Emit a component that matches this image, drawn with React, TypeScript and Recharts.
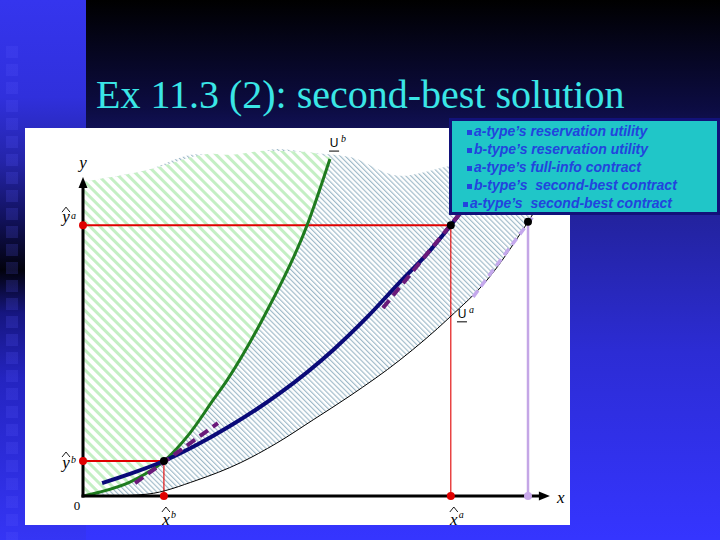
import React from 'react'
import { ComposedChart, Line, Area, XAxis, YAxis, ReferenceLine, ReferenceDot, Legend } from 'recharts'

const serif = '"Liberation Serif", "Times New Roman", serif'
const sans = '"Liberation Sans", Arial, sans-serif'

// plot units: x 0..10, y 0..10
const xHatB = 1.74
const xHatA = 7.91
const yHatB = 0.95
const yHatA = 7.36
const xSecondA = 9.57
const ySecondA = 7.45
const yAxisTop = 8.67
const xAxisEnd = 10.04

// b-type reservation utility (green)
const ubCurve = [
  { x: 0, y: 0 }, { x: 0.37, y: 0.11 }, { x: 1.01, y: 0.38 }, { x: 1.38, y: 0.63 },
  { x: 1.74, y: 0.95 }, { x: 2.3, y: 1.71 }, { x: 2.8, y: 2.61 }, { x: 3.1, y: 3.15 },
  { x: 3.91, y: 4.92 }, { x: 4.82, y: 7.36 }, { x: 5.31, y: 9.16 },
]
// top edge of the green hatch, one per ubCurve point
const ubHatchTop = [8.53, 8.62, 8.76, 8.86, 8.98, 9.2, 9.3, 9.27, 9.38, 9.35, 9.2]

// a-type reservation utility (thin black)
const uaCurve = [
  { x: 0.62, y: 0 }, { x: 1.38, y: 0.05 }, { x: 2.45, y: 0.43 }, { x: 3.38, y: 0.9 },
  { x: 4.17, y: 1.44 }, { x: 4.95, y: 2.07 }, { x: 5.74, y: 2.72 }, { x: 6.82, y: 3.7 },
  { x: 7.89, y: 4.86 }, { x: 8.69, y: 5.87 }, { x: 9.57, y: 7.45 }, { x: 10, y: 8.32 },
]
const uaHatchTop = [8.67, 8.86, 9.29, 9.21, 9.43, 9.32, 9.21, 8.7, 8.97, 9.13, 9.13, 9.13]
const hatchTopAtOrigin = 8.53

// a-type full-info contract curve (navy)
const aFullInfo = [
  { x: 0.41, y: 0.35 }, { x: 1.01, y: 0.6 }, { x: 1.74, y: 0.95 }, { x: 2.45, y: 1.39 },
  { x: 3.16, y: 1.9 }, { x: 4.24, y: 2.8 }, { x: 5.38, y: 3.97 }, { x: 6.11, y: 4.86 },
  { x: 6.82, y: 5.82 }, { x: 7.4, y: 6.58 }, { x: 7.91, y: 7.36 }, { x: 8.32, y: 8.02 },
]

// b-type second-best (purple dashed, two pieces)
const bSecondBest = [
  { x: 1.12, y: 0.35 }, { x: 2.9, y: 1.98 }, { x: 4.6, y: null },
  { x: 6.45, y: 5.11 }, { x: 8.34, y: 8.04 },
]

// a-type second-best (lavender dashed)
const aSecondBest = [{ x: 8.39, y: 5.41 }, { x: 9.94, y: 8.04 }]

const legendItems = [
  'a-type’s reservation utility',
  'b-type’s reservation utility',
  'a-type’s full-info contract',
  'b-type’s  second-best contract',
  'a-type’s  second-best contract',
]

const greenArea = ubCurve.map((p, i) => ({ x: p.x, range: [p.y, ubHatchTop[i]] }))
const blueArea = [
  { x: 0, range: [0, hatchTopAtOrigin] },
  ...uaCurve.map((p, i) => ({ x: p.x, range: [p.y, uaHatchTop[i]] })),
]

function LegendBox() {
  return (
    <div
      style={{
        boxSizing: 'border-box', width: 271, height: 97, background: '#20c6c8',
        border: '3px solid #12127a', paddingTop: 1, fontFamily: sans, fontWeight: 'bold',
        fontStyle: 'italic', fontSize: 14, lineHeight: '18px', color: '#2244dd',
      }}
    >
      {legendItems.map((t, i) => (
        <div key={i} style={{ paddingLeft: i === 4 ? 11 : 15, whiteSpace: 'pre' }}>
          <span style={{ display: 'inline-block', width: 5, height: 5, background: '#2244dd', marginRight: 2, verticalAlign: 'middle' }} />
          {t}
        </div>
      ))}
    </div>
  )
}

function hatLabel(letter: string, sup: string, dx: number, dy: number, hatDy: number, supDy: number) {
  return (cx: number, cy: number) => {
    const lx = cx + dx
    return (
      <g>
        <polyline points={`${lx - 4},${cy + hatDy + 5} ${lx},${cy + hatDy} ${lx + 4},${cy + hatDy + 5}`} fill="none" stroke="#000" strokeWidth={0.9} />
        <text x={lx} y={cy + dy} textAnchor="middle" fontFamily={serif} fontStyle="italic" fontSize={17}>{letter}</text>
        <text x={lx + 5} y={cy + supDy} fontFamily={serif} fontStyle="italic" fontSize={10}>{sup}</text>
      </g>
    )
  }
}

function dotShape(fill: string, r: number, label?: (cx: number, cy: number) => React.ReactNode) {
  return (p: any) => (
    <g>
      <circle cx={p.cx} cy={p.cy} r={r} fill={fill} />
      {label ? label(p.cx, p.cy) : null}
    </g>
  )
}

function uLabel(sup: string) {
  return (p: any) => (
    <g>
      <text x={p.cx} y={p.cy + 4} textAnchor="middle" fontFamily={sans} fontSize={12}>U</text>
      <line x1={p.cx - 5} x2={p.cx + 5} y1={p.cy + 8} y2={p.cy + 8} stroke="#000" strokeWidth={1} />
      <text x={p.cx + 7} y={p.cy - 1} fontFamily={serif} fontStyle="italic" fontSize={10}>{sup}</text>
    </g>
  )
}

function yAxisShape(p: any) {
  const { x1, y1, x2, y2 } = p
  return (
    <g>
      <line x1={x1} y1={y1 + 1.5} x2={x2} y2={y2 + 8} stroke="#000" strokeWidth={3} />
      <polygon points={`${x2},${y2} ${x2 - 4.5},${y2 + 11} ${x2 + 4.5},${y2 + 11}`} fill="#000" />
      <text x={x2} y={y2 - 9} textAnchor="middle" fontFamily={serif} fontStyle="italic" fontSize={17}>y</text>
    </g>
  )
}

function xAxisShape(p: any) {
  const { x1, y1, x2, y2 } = p
  return (
    <g>
      <line x1={x1 - 1.5} y1={y1} x2={x2 - 8} y2={y2} stroke="#000" strokeWidth={3} />
      <polygon points={`${x2},${y2} ${x2 - 11},${y2 - 4.5} ${x2 - 11},${y2 + 4.5}`} fill="#000" />
      <text x={x2 + 11} y={y2 + 7} textAnchor="middle" fontFamily={serif} fontStyle="italic" fontSize={17}>x</text>
      <text x={x1 - 6} y={y1 + 14} textAnchor="middle" fontFamily={serif} fontSize={13}>0</text>
    </g>
  )
}

export default function App() {
  return (
    <div style={{ position: 'absolute', left: 0, top: 0, width: 720, height: 540, overflow: 'hidden' }}>
      <div style={{ position: 'absolute', inset: 0, background: 'linear-gradient(to bottom, #000000 0%, #0c0c42 20%, #22229a 38%, #2c2cd4 65%, #3535ff 100%)' }} />
      <div style={{ position: 'absolute', left: 0, top: 0, width: 86, height: 540, background: 'linear-gradient(to bottom, #3535ee 0%, #3030dc 18%, #2424a8 30%, #121260 40%, #02020c 50%, #161680 58%, #2424c0 70%, #3535f5 100%)' }} />
      <div style={{ position: 'absolute', left: 6, top: 46, width: 12, height: 494, background: 'repeating-linear-gradient(to bottom, rgba(90,90,255,0.18) 0px, rgba(90,90,255,0.18) 12px, transparent 12px, transparent 18px)' }} />
      <div style={{ position: 'absolute', left: 25, top: 128, width: 545, height: 397, background: '#ffffff' }} />
      <div style={{ position: 'absolute', left: 96, top: 75, fontFamily: serif, fontSize: 40, lineHeight: 1, color: '#3ae6e6', whiteSpace: 'nowrap' }}>
        Ex 11.3 (2): second-best solution
      </div>
      <div style={{ position: 'absolute', left: 0, top: 0 }}>
        <ComposedChart width={720} height={540} margin={{ top: 128, right: 172, bottom: 44, left: 83 }}>
          <defs>
            <pattern id="hatchGreen" width="7" height="7" patternUnits="userSpaceOnUse" patternTransform="rotate(-45)">
              <rect width="7" height="7" fill="#ffffff" />
              <line x1="1.5" y1="0" x2="1.5" y2="7" stroke="#c4efc4" strokeWidth="3" />
            </pattern>
            <pattern id="hatchBlue" width="3.6" height="3.6" patternUnits="userSpaceOnUse" patternTransform="rotate(-45)">
              <line x1="0.6" y1="0" x2="0.6" y2="3.6" stroke="#9ab6c6" strokeWidth="1.1" />
            </pattern>
          </defs>
          <XAxis type="number" dataKey="x" domain={[0, 10]} hide allowDataOverflow />
          <YAxis type="number" domain={[0, 10]} hide allowDataOverflow />
          <Legend content={LegendBox} layout="horizontal" verticalAlign="middle" align="center" wrapperStyle={{ left: 449, top: 118, width: 271, height: 97 }} />

          <Area data={blueArea} dataKey="range" type="monotone" fill="url(#hatchBlue)" fillOpacity={1} stroke="none" dot={false} activeDot={false} isAnimationActive={false} />
          <Area data={greenArea} dataKey="range" type="monotone" fill="url(#hatchGreen)" fillOpacity={1} stroke="none" dot={false} activeDot={false} isAnimationActive={false} />

          <ReferenceLine segment={[{ x: 0, y: yHatA }, { x: xHatA, y: yHatA }]} stroke="#e00000" strokeWidth={2} />
          <ReferenceLine segment={[{ x: 0, y: yHatB }, { x: xHatB, y: yHatB }]} stroke="#e00000" strokeWidth={2} />
          <ReferenceLine segment={[{ x: xHatA, y: 0 }, { x: xHatA, y: yHatA }]} stroke="#e00000" strokeWidth={1.1} />
          <ReferenceLine segment={[{ x: xHatB, y: 0 }, { x: xHatB, y: yHatB }]} stroke="#e00000" strokeWidth={1.1} />
          <ReferenceLine segment={[{ x: xSecondA, y: 0 }, { x: xSecondA, y: ySecondA }]} stroke="#c4a6e6" strokeWidth={2.5} />

          <Line data={uaCurve} dataKey="y" type="monotone" stroke="#000000" strokeWidth={1} dot={false} activeDot={false} isAnimationActive={false} />
          <Line data={ubCurve} dataKey="y" type="monotone" stroke="#1e7b1e" strokeWidth={3} dot={false} activeDot={false} isAnimationActive={false} />
          <Line data={aFullInfo} dataKey="y" type="monotone" stroke="#0a0a78" strokeWidth={4} dot={false} activeDot={false} isAnimationActive={false} />
          <Line data={bSecondBest} dataKey="y" type="linear" stroke="#6a1a7a" strokeWidth={4} strokeDasharray="10 6" dot={false} activeDot={false} isAnimationActive={false} />
          <Line data={aSecondBest} dataKey="y" type="linear" stroke="#c4a8ec" strokeWidth={3.5} strokeDasharray="8 5" dot={false} activeDot={false} isAnimationActive={false} />

          <ReferenceLine segment={[{ x: 0, y: 0 }, { x: 0, y: yAxisTop }]} ifOverflow="visible" shape={yAxisShape} />
          <ReferenceLine segment={[{ x: 0, y: 0 }, { x: xAxisEnd, y: 0 }]} ifOverflow="visible" shape={xAxisShape} />

          <ReferenceDot x={0} y={yHatA} r={4} shape={dotShape('#e00000', 4, hatLabel('y', 'a', -17, -3, -18, -6))} />
          <ReferenceDot x={0} y={yHatB} r={4} shape={dotShape('#e00000', 4, hatLabel('y', 'b', -17, 7, -9, 2))} />
          <ReferenceDot x={xHatB} y={0} r={4} shape={dotShape('#e00000', 4, hatLabel('x', 'b', 2, 29, 11, 22))} />
          <ReferenceDot x={xHatA} y={0} r={4} shape={dotShape('#e00000', 4, hatLabel('x', 'a', 3, 29, 11, 22))} />
          <ReferenceDot x={xSecondA} y={0} r={4} shape={dotShape('#c8a8ea', 4)} />
          <ReferenceDot x={xHatB} y={yHatB} r={4} shape={dotShape('#000000', 4)} />
          <ReferenceDot x={xHatA} y={yHatA} r={4} shape={dotShape('#000000', 4)} />
          <ReferenceDot x={xSecondA} y={ySecondA} r={4} shape={dotShape('#000000', 4)} />

          <ReferenceDot x={5.4} y={9.59} r={1} shape={uLabel('b')} />
          <ReferenceDot x={8.15} y={4.95} r={1} shape={uLabel('a')} />
        </ComposedChart>
      </div>
    </div>
  )
}
